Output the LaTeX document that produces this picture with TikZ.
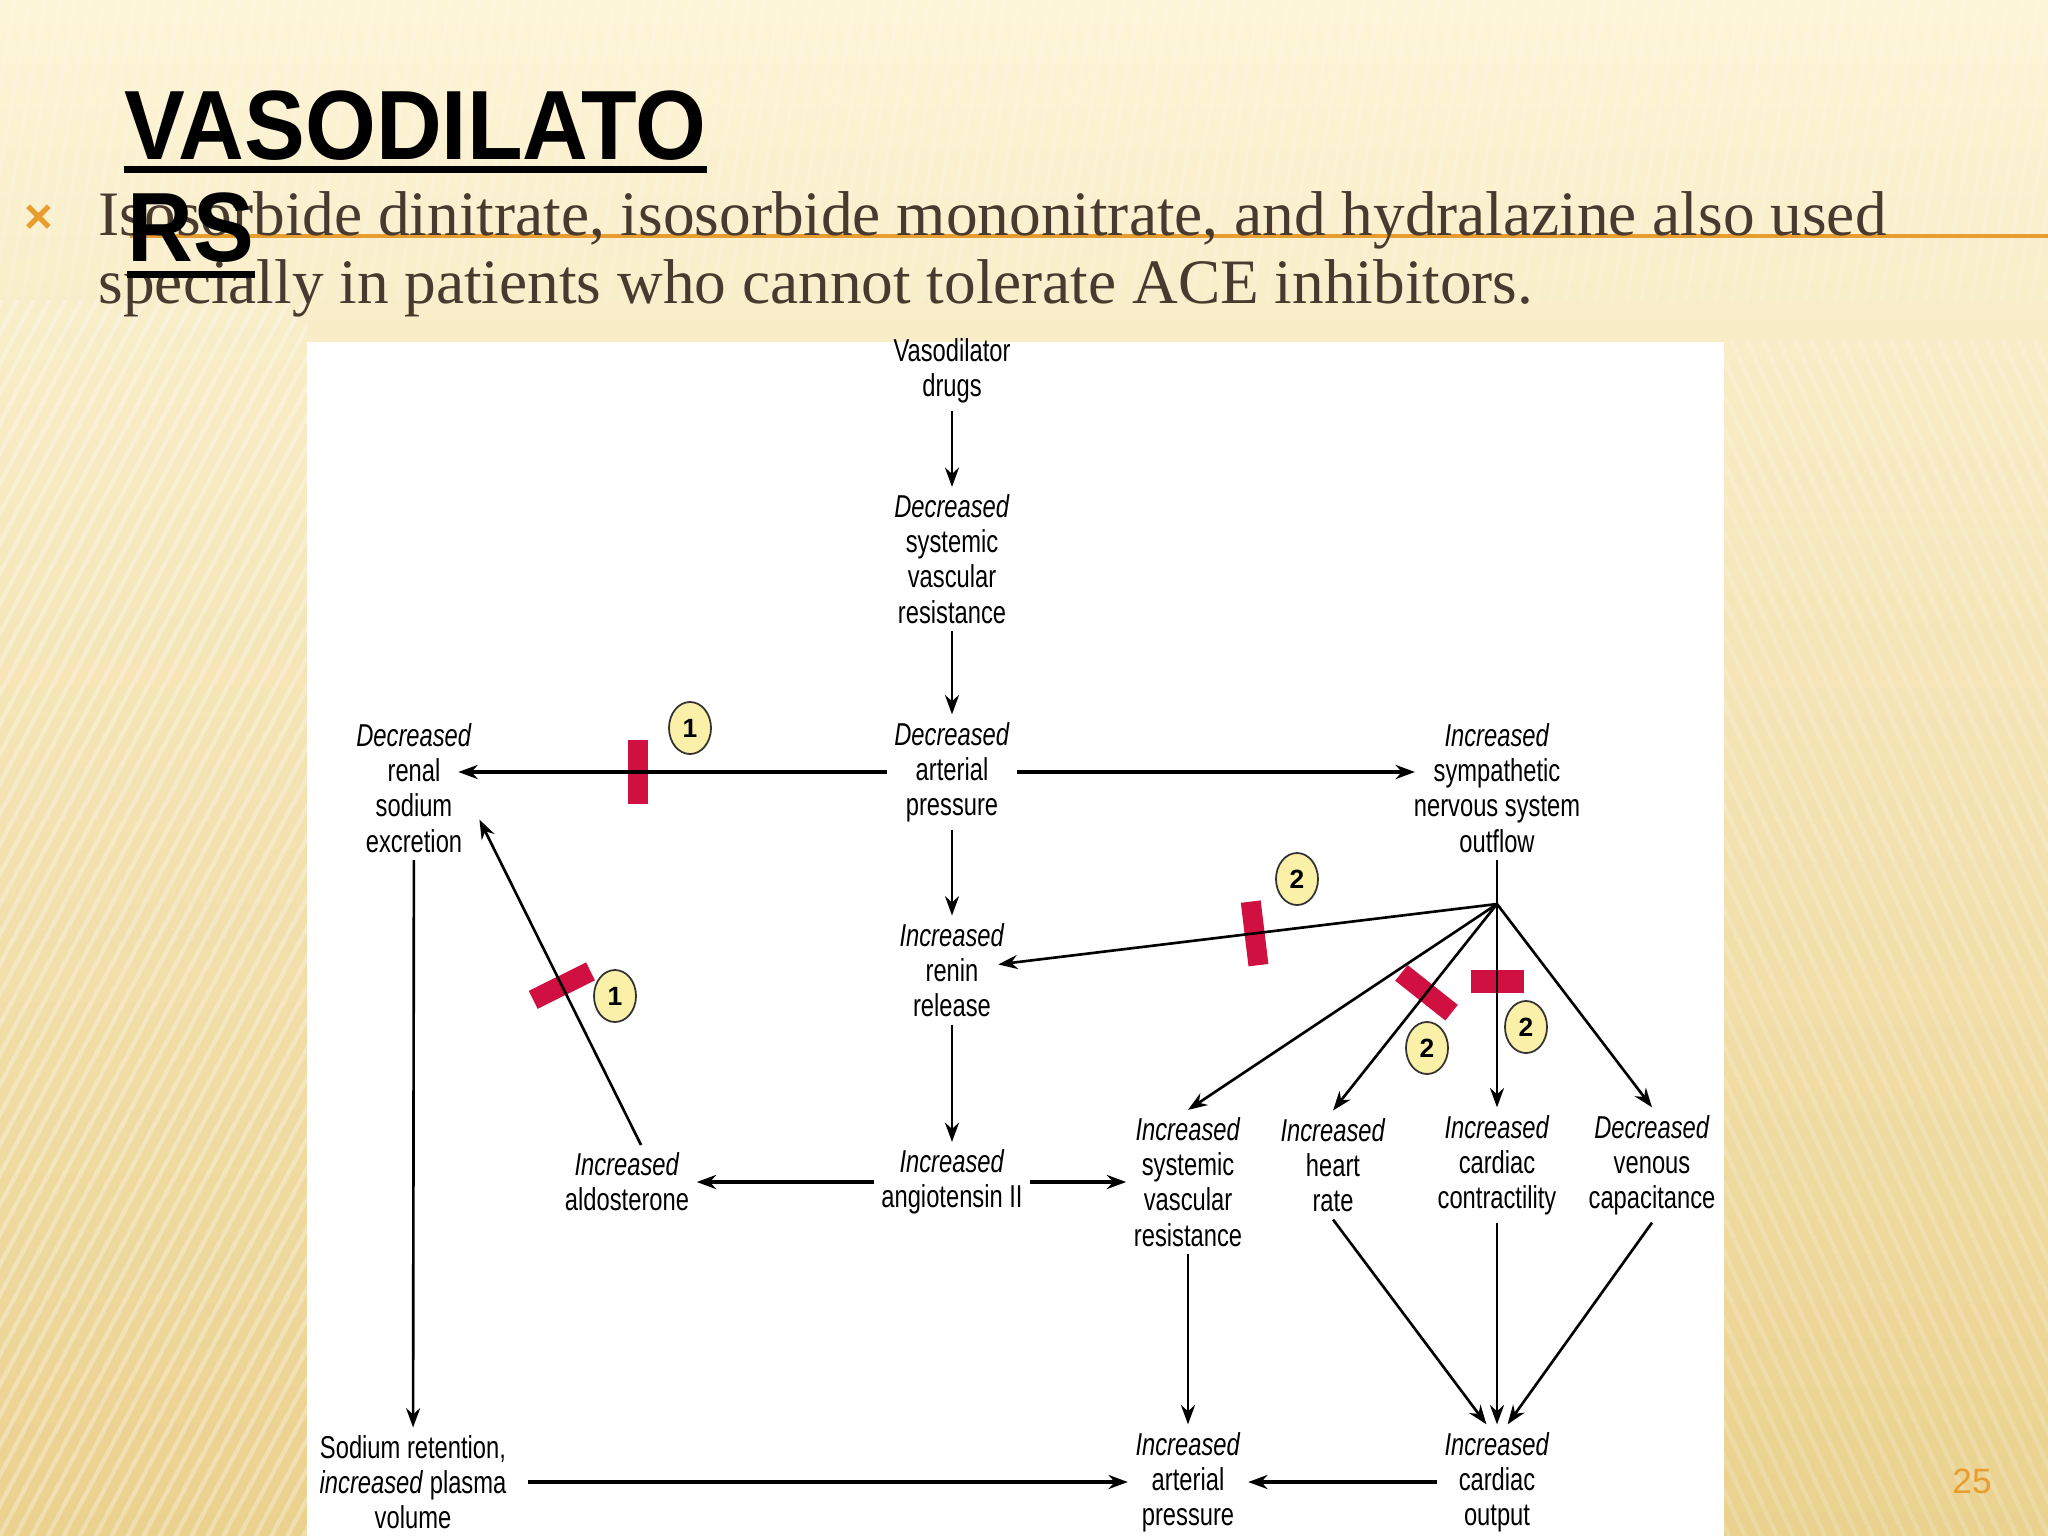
\documentclass[tikz,border=0pt]{standalone}
\usepackage{fontspec}
\setsansfont{Liberation Sans}
\newfontfamily\diagfont[FakeStretch=0.75]{Liberation Sans}
\newfontfamily\headfont[FakeStretch=0.925]{Liberation Sans}
\newfontfamily\bodyfont{Liberation Serif}
\usetikzlibrary{arrows.meta,shapes.geometric,patterns.meta}

\definecolor{slidetop}{RGB}{253,245,216}
\definecolor{slidemid}{RGB}{248,232,182}
\definecolor{slidebot}{RGB}{234,209,142}
\definecolor{bodybrown}{RGB}{72,58,46}
\definecolor{accent}{RGB}{232,158,46}
\definecolor{blockred}{RGB}{208,16,64}
\definecolor{badgefill}{RGB}{250,240,168}

\tikzset{
	lbl/.style={align=center, inner sep=2pt, font=\diagfont\fontsize{9}{10}\selectfont},
	flow/.style={line width=0.75pt, -{Stealth[length=5.5pt,width=4pt]}},
	bigflow/.style={flow, line width=1.2pt},
	blockbar/.style={fill=blockred, inner sep=0pt, minimum width=0.2cm,
		minimum height=0.64cm, sloped, behind path},
	badge/.style={ellipse, draw=black!80, line width=0.5pt, fill=badgefill,
		inner sep=0pt, minimum width=0.42cm, minimum height=0.52cm,
		font=\sffamily\bfseries\fontsize{7.5}{8}\selectfont}
}

\begin{document}
\begin{tikzpicture}[x=0.01cm,y=-0.01cm]
	\useasboundingbox (0,0) rectangle (2048,1536);
	% slide background
	\shade[top color=slidetop, middle color=slidemid, bottom color=slidebot]
		(0,0) rectangle (2048,1536);
	\fill[pattern={Lines[angle=62,distance=4pt,line width=1.3pt]},
		pattern color=white, fill opacity=0.3] (0,300) rectangle (307,1536);
	\fill[pattern={Lines[angle=115,distance=4pt,line width=1.3pt]},
		pattern color=white, fill opacity=0.18] (1724,340) rectangle (2048,1536);
	\fill[pattern={Lines[angle=80,distance=4pt,line width=1pt]},
		pattern color=white, fill opacity=0.15] (0,0) rectangle (2048,300);
	\fill[white] (307,342) rectangle (1724,1536);

	% heading and bullet
	\draw[accent, line width=1.2pt] (130,236) -- (2048,236);
	\node[text=accent, font=\sffamily\bfseries\fontsize{14}{14}\selectfont]
		(bullet) at (39,219) {×};
	\node[anchor=base west, inner sep=0pt, text=bodybrown,
		font=\bodyfont\fontsize{18}{20}\selectfont] (line1) at (98,235)
		{Isosorbide dinitrate, isosorbide mononitrate, and hydralazine also used};
	\node[anchor=base west, inner sep=0pt, text=bodybrown,
		font=\bodyfont\fontsize{18}{20}\selectfont] (line2) at (98,303)
		{specially in patients who cannot tolerate ACE inhibitors.};
	\node[anchor=base west, inner sep=0pt, font=\headfont\bfseries\fontsize{28}{30}\selectfont]
		(head1) at (124,159) {VASODILATO};
	\node[anchor=base west, inner sep=0pt, font=\headfont\bfseries\fontsize{28}{30}\selectfont]
		(head2) at (127,261) {RS};
	\draw[line width=2pt] ([yshift=-3.1pt]head1.base west) -- ([yshift=-3.1pt]head1.base east);
	\draw[line width=2pt] ([yshift=-3.7pt]head2.base west) -- ([yshift=-3.7pt]head2.base east);
	\node[text=accent, font=\sffamily\fontsize{10}{10}\selectfont] (pagenum) at (1972,1481) {25};

	% diagram
	\node[lbl] (drugs) at (952,371) {Vasodilator\\drugs};
	\node[lbl] (dsvr) at (952,559) {\textit{Decreased}\\systemic\\vascular\\resistance};
	\node[lbl] (dap) at (952,772) {\textit{Decreased}\\arterial\\pressure};
	\node[lbl] (renal) at (414,788) {\textit{Decreased}\\renal\\sodium\\excretion};
	\node[lbl] (sym) at (1497,788) {\textit{Increased}\\sympathetic\\nervous system\\outflow};
	\node[lbl] (renin) at (952,970) {\textit{Increased}\\renin\\release};
	\node[lbl] (ang) at (952,1182) {\textit{Increased}\\angiotensin II};
	\node[lbl] (aldo) at (627,1182) {\textit{Increased}\\aldosterone};
	\node[lbl] (isvr) at (1188,1182) {\textit{Increased}\\systemic\\vascular\\resistance};
	\node[lbl] (hr) at (1333,1165) {\textit{Increased}\\heart\\rate};
	\node[lbl] (cc) at (1497,1165) {\textit{Increased}\\cardiac\\contractility};
	\node[lbl] (vc) at (1652,1165) {\textit{Decreased}\\venous\\capacitance};
	\node[lbl] (sodium) at (413,1482) {Sodium retention,\\\textit{increased} plasma\\volume};
	\node[lbl] (bap) at (1188,1482) {\textit{Increased}\\arterial\\pressure};
	\node[lbl] (co) at (1497,1482) {\textit{Increased}\\cardiac\\output};
	\coordinate (hub) at (1497,904);

	\draw[flow] (drugs) -- (dsvr);
	\draw[flow] (dsvr) -- (dap);
	\draw[bigflow, shorten >=-6pt] (dap.west) -- node[blockbar, pos=0.61]{} (dap.west -| renal.east);
	\draw[bigflow, shorten >=-2.5pt] (dap.east) -- (dap.east -| sym.west);
	\draw[flow] (dap) -- (renin);
	\draw[flow] (renin) -- (ang);
	\draw[bigflow] (ang) -- (aldo);
	\draw[bigflow] (ang) -- (isvr);
	\draw[flow] ([xshift=4pt]aldo.north) -- node[blockbar, pos=0.49]{} ([yshift=-9pt]renal.east);
	\draw[flow] (renal) -- (sodium);
	\draw[bigflow, shorten <=4pt] (sodium) -- (bap);
	\draw[bigflow] (co) -- (bap);
	\draw[flow] (isvr) -- (bap);
	\draw[line width=0.75pt] (sym) -- (hub);
	\draw[flow, shorten >=-4pt] (hub) -- node[blockbar, pos=0.5]{} (renin);
	\draw[flow] (hub) -- (isvr.north);
	\draw[flow] (hub) -- node[blockbar, pos=0.43]{} (hr.north);
	\draw[flow] (hub) -- node[blockbar, pos=0.38, minimum width=0.23cm, minimum height=0.53cm]{} (cc.north);
	\draw[flow] (hub) -- (vc.north);
	\draw[flow] (hr.south) -- ([xshift=-3pt]co.north);
	\draw[flow] (cc) -- (co);
	\draw[flow] (vc.south) -- ([xshift=3pt]co.north);

	\node[badge] (n1a) at (690,728) {1};
	\node[badge] (n1b) at (615,996) {1};
	\node[badge] (n2a) at (1297,879) {2};
	\node[badge] (n2b) at (1427,1048) {2};
	\node[badge] (n2c) at (1526,1027) {2};
\end{tikzpicture}
\end{document}
